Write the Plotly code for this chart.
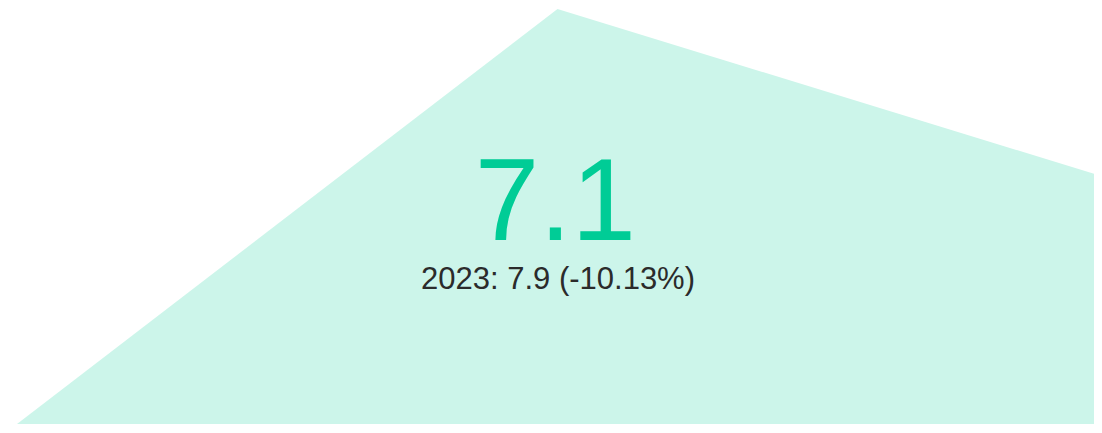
import plotly.graph_objects as go

years = [2022, 2023, 2024]
values = [5.9, 7.9, 7.1]
current_value = 7.1
reference_year = 2023
reference_value = 7.9
delta_pct = (current_value - reference_value) / reference_value * 100

fig = go.Figure()
fig.add_trace(go.Scatter(
    x=years, y=values, mode="lines", fill="tozeroy",
    line=dict(width=0, color="rgba(0,204,150,0.2)"),
    fillcolor="rgba(0,204,150,0.2)", hoverinfo="skip", showlegend=False,
))
fig.add_trace(go.Indicator(
    mode="number", value=current_value,
    number=dict(font=dict(size=116, color="#00cc96", family="Arial, Liberation Sans"), valueformat=".1f"),
    domain=dict(x=[0, 0.996], y=[0.19, 0.89]),
))
fig.add_annotation(
    x=0.5, y=0.303, xref="paper", yref="paper",
    text=f"{reference_year}: {reference_value:.1f} ({delta_pct:.2f}%)",
    showarrow=False,
    font=dict(size=31, color="#2b2b2b", family="Arial, Liberation Sans"),
)
fig.update_layout(
    width=1102, height=433,
    margin=dict(l=9, r=12, t=1, b=17),
    paper_bgcolor="white", plot_bgcolor="white",
    xaxis=dict(visible=False, range=[years[0], years[-1]]),
    yaxis=dict(visible=False, range=[min(values), max(values)]),
)
fig.write_html("out.html")
